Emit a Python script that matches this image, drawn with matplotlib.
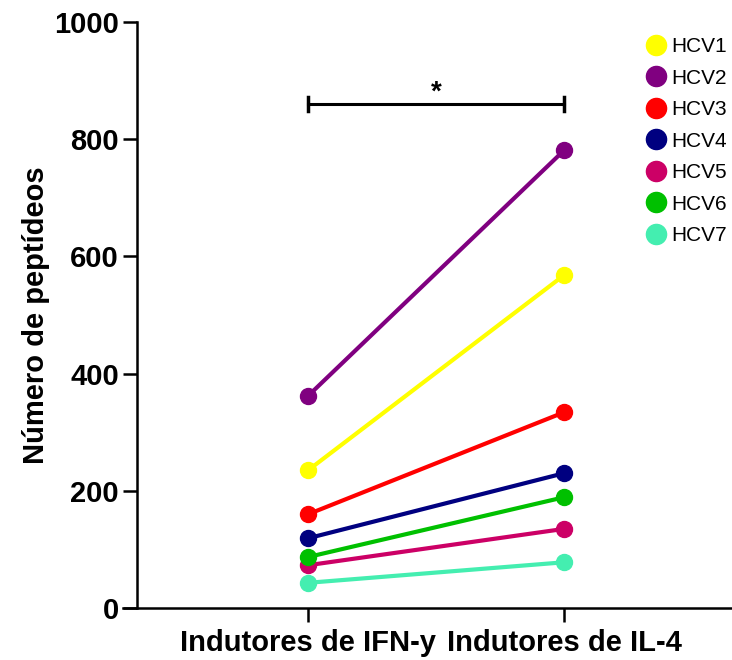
import matplotlib.pyplot as plt
from matplotlib.lines import Line2D

plt.rcParams['font.family'] = ['Liberation Sans', 'DejaVu Sans']

groups = ["Indutores de IFN-y", "Indutores de IL-4"]
series = ["HCV1", "HCV2", "HCV3", "HCV4", "HCV5", "HCV6", "HCV7"]
ifn = [235, 362, 160, 119, 73, 87, 43]
il4 = [568, 781, 334, 230, 135, 189, 78]
colors = ["#FFFF00", "#800080", "#FF0000", "#000080", "#CC0066", "#00C000", "#44EEB0"]

fig = plt.figure(figsize=(7.32, 6.6), dpi=100)
ax = fig.add_axes([123 / 732, 52 / 660, 608 / 732, 586 / 660])

x = [0, 1]
for name, a, b, c in zip(series, ifn, il4, colors):
    ax.plot(x, [a, b], color=c, lw=3, marker='o', ms=11.5, mec=c, mfc=c,
            solid_capstyle='butt', clip_on=False)

ax.set_xlim(-0.723, 1.652)
ax.set_ylim(0, 1000)
ax.spines['top'].set_visible(False)
ax.spines['right'].set_visible(False)
ax.spines['left'].set_position(('data', -0.668))
ax.spines['left'].set_linewidth(1.8)
ax.spines['bottom'].set_linewidth(1.8)

ax.set_xticks(x)
ax.set_xticklabels(groups, fontsize=21, fontweight='bold')
ax.set_yticks([0, 200, 400, 600, 800, 1000])
ax.tick_params(axis='y', labelsize=21, length=10, width=1.8, pad=3)
ax.tick_params(axis='x', length=10, width=1.8, pad=5)
for t in ax.get_yticklabels():
    t.set_fontweight('bold')
ax.set_ylabel("Número de peptídeos", fontsize=21, fontweight='bold', labelpad=3)

# significance bar
ax.plot([0, 1], [860, 860], color='black', lw=2.2)
ax.plot([0, 0], [848, 872], color='black', lw=2.5)
ax.plot([1, 1], [848, 872], color='black', lw=2.5)
ax.text(0.5, 880, "*", ha='center', va='center', fontsize=20, fontweight='bold')

handles = [Line2D([], [], ls='none', marker='o', ms=14.5, color=c) for c in colors]
ax.legend(handles, series, loc='upper right', bbox_to_anchor=(1.024, 1.006), frameon=False,
          fontsize=15, handletextpad=0.15, labelspacing=0.6, handlelength=1.2)

fig.savefig("out.png", dpi=100)
